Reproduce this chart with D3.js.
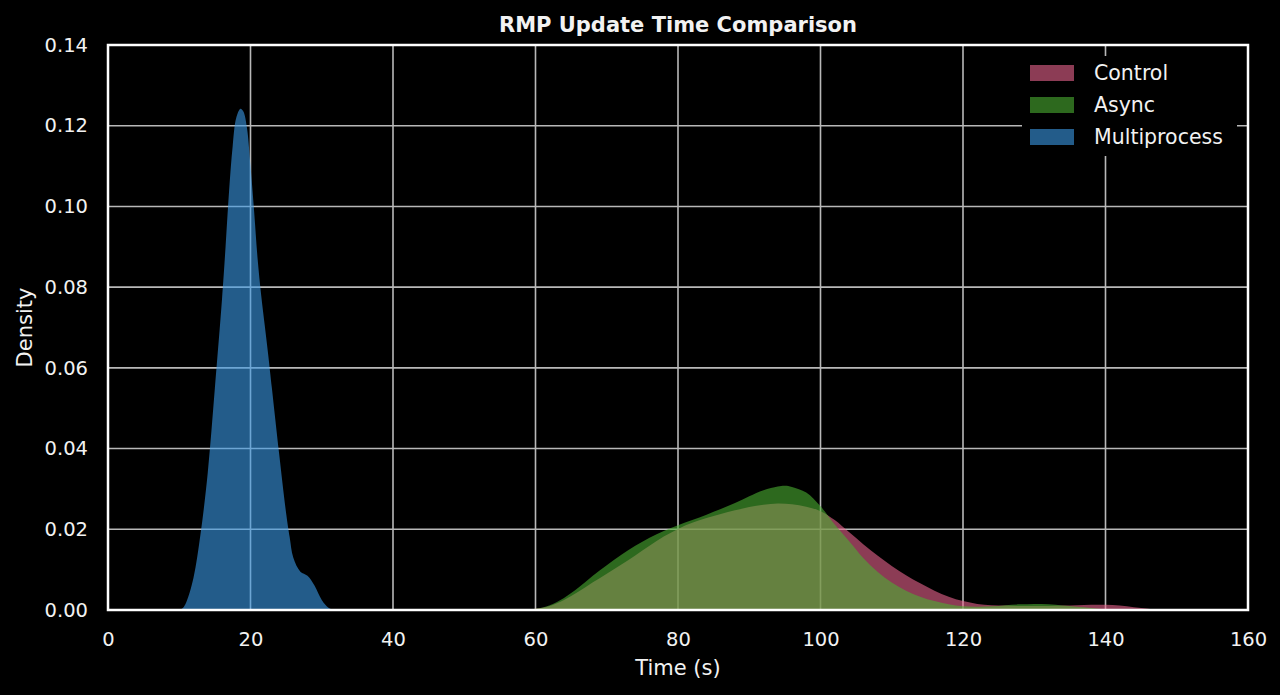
<!DOCTYPE html>
<html>
<head>
<meta charset="utf-8">
<script src="https://cdn.jsdelivr.net/npm/d3@7"></script>
<style>
  html, body { margin: 0; padding: 0; background: #000; }
  svg { display: block; }
  text { font-family: "DejaVu Sans", "Lato", sans-serif; fill: #f2f2f2; }
</style>
</head>
<body>
<svg id="chart" width="1280" height="695"></svg>
<script>
// ---- data ----
const seriesNames = ["Control", "Async", "Multiprocess"];
const seriesColors = ["#e9648e", "#4baf32", "#3a9ae6"];

const controlX = [58,60,62,64,66,68,70,72,74,76,78,80,82,84,86,88,90,92,94,96,98,100,102,104,106,108,110,112,114,116,118,120,122,124,126,128,130,132,134,136,138,140,142,144,146,148];
const controlY = [0,0.0003,0.001,0.0025,0.0045,0.0068,0.009,0.0112,0.0135,0.0159,0.0182,0.0201,0.0216,0.0228,0.0238,0.0247,0.0255,0.0261,0.0264,0.0262,0.0256,0.0245,0.0223,0.0193,0.0163,0.0135,0.0109,0.0086,0.0066,0.0048,0.0033,0.0022,0.0015,0.0012,0.0011,0.001,0.001,0.001,0.0011,0.0012,0.0013,0.0013,0.0011,0.0007,0.0003,0];

const asyncX = [58,60,62,64,66,68,70,72,74,76,78,80,82,84,86,88,90,92,94,95,96,98,100,102,104,106,108,110,112,114,116,118,120,122,124,126,128,130,132,134,136,138,140,142];
const asyncY = [0,0.0003,0.0012,0.003,0.0055,0.0084,0.0111,0.0136,0.0159,0.0179,0.0196,0.021,0.0223,0.0236,0.025,0.0265,0.0282,0.0297,0.0306,0.0308,0.0305,0.0291,0.0257,0.0212,0.0171,0.0129,0.0095,0.0068,0.0048,0.0033,0.0022,0.0014,0.0009,0.0008,0.0009,0.0012,0.0014,0.0015,0.0014,0.0011,0.0008,0.0005,0.0002,0];

const multiX = [10,10.5,11,12,13,14,15,16,16.5,17,17.5,18,18.6,19,19.5,20,20.5,21,21.5,22,22.5,23,24,25,25.5,26,27,28,29,30,31,32];
const multiY = [0,0.0005,0.002,0.008,0.019,0.034,0.055,0.077,0.09,0.104,0.115,0.122,0.1242,0.1235,0.1195,0.110,0.099,0.087,0.078,0.0705,0.063,0.055,0.039,0.024,0.018,0.013,0.0095,0.0085,0.006,0.0025,0.0005,0];

const xTicks = [0,20,40,60,80,100,120,140,160];
const yTicks = [0,0.02,0.04,0.06,0.08,0.10,0.12,0.14];

const titleText = "RMP Update Time Comparison";
const xLabel = "Time (s)";
const yLabel = "Density";

// ---- layout ----
const W = 1280, H = 695;
const plot = { left: 108, right: 1248, top: 45, bottom: 610 };

const svg = d3.select("#chart");
svg.append("rect").attr("width", W).attr("height", H).attr("fill", "#000");

const x = d3.scaleLinear().domain([0, 160]).range([plot.left, plot.right]);
const y = d3.scaleLinear().domain([0, 0.14]).range([plot.bottom, plot.top]);

// grid
const grid = svg.append("g");
grid.selectAll("line.vx").data(xTicks.slice(1, -1)).enter().append("line")
  .attr("x1", d => x(d)).attr("x2", d => x(d))
  .attr("y1", plot.top).attr("y2", plot.bottom)
  .attr("stroke", "#b8b8b8").attr("stroke-width", 1.6);
grid.selectAll("line.hy").data(yTicks.slice(1, -1)).enter().append("line")
  .attr("x1", plot.left).attr("x2", plot.right)
  .attr("y1", d => y(d)).attr("y2", d => y(d))
  .attr("stroke", "#b8b8b8").attr("stroke-width", 1.6);

// density areas
const area = d3.area()
  .x(d => x(d[0])).y0(y(0)).y1(d => Math.min(y(0), y(d[1])))
  .curve(d3.curveCatmullRom.alpha(0.5));

const seriesData = [
  d3.zip(controlX, controlY),
  d3.zip(asyncX, asyncY),
  d3.zip(multiX, multiY)
];

svg.append("g").selectAll("path").data(seriesData).enter().append("path")
  .attr("d", d => area(d))
  .attr("fill", (d, i) => seriesColors[i])
  .attr("fill-opacity", 0.6)
  .attr("stroke", "none");

// frame
svg.append("rect")
  .attr("x", plot.left).attr("y", plot.top)
  .attr("width", plot.right - plot.left).attr("height", plot.bottom - plot.top)
  .attr("fill", "none").attr("stroke", "#ffffff").attr("stroke-width", 2.5);

// axes (labels only, no tick marks)
const xAxis = d3.axisBottom(x).tickValues(xTicks).tickSize(0).tickPadding(0).tickFormat(d3.format("d"));
const gx = svg.append("g").attr("transform", `translate(0,${plot.bottom + 22})`).call(xAxis);
gx.select(".domain").remove();
gx.selectAll("text").attr("font-size", 19.5).attr("dy", "0.71em").style("fill", "#f2f2f2")
  .attr("font-family", "DejaVu Sans, sans-serif");

const yAxis = d3.axisLeft(y).tickValues(yTicks).tickSize(0).tickPadding(0).tickFormat(d3.format(".2f"));
const gy = svg.append("g").attr("transform", `translate(${plot.left - 20},0)`).call(yAxis);
gy.select(".domain").remove();
gy.selectAll("text").attr("font-size", 19.5).style("fill", "#f2f2f2")
  .attr("font-family", "DejaVu Sans, sans-serif");

// title + axis labels
svg.append("text").attr("x", (plot.left + plot.right) / 2).attr("y", 32)
  .attr("text-anchor", "middle").attr("font-size", 21).attr("font-weight", "bold")
  .text(titleText);
svg.append("text").attr("x", (plot.left + plot.right) / 2).attr("y", 675)
  .attr("text-anchor", "middle").attr("font-size", 21)
  .text(xLabel);
svg.append("text")
  .attr("transform", `translate(32,${(plot.top + plot.bottom) / 2}) rotate(-90)`)
  .attr("text-anchor", "middle").attr("font-size", 21)
  .text(yLabel);

// legend
const lg = svg.append("g");
lg.append("rect").attr("x", 1022).attr("y", 56).attr("width", 215).attr("height", 100)
  .attr("fill", "#000");
seriesNames.forEach((name, i) => {
  const cy = 73 + i * 32;
  lg.append("rect").attr("x", 1030).attr("y", cy - 8).attr("width", 44).attr("height", 16)
    .attr("fill", seriesColors[i]).attr("fill-opacity", 0.6);
  lg.append("text").attr("x", 1094).attr("y", cy).attr("dy", "0.35em")
    .attr("font-size", 20.5).text(name);
});
</script>
</body>
</html>
